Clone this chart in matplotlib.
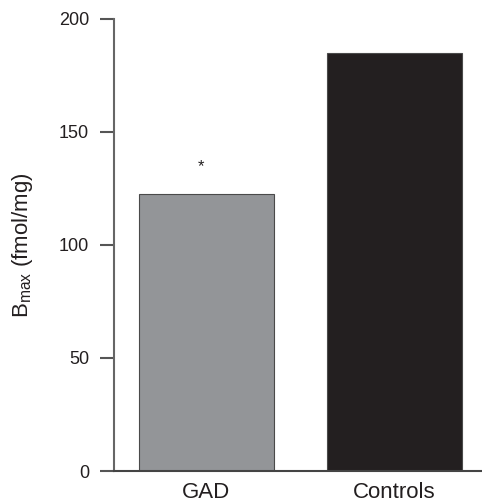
import matplotlib
matplotlib.use("Agg")
import matplotlib.pyplot as plt

plt.rcParams['font.family'] = ['Liberation Sans', 'DejaVu Sans']
plt.rcParams['mathtext.default'] = 'regular'

categories = ["GAD", "Controls"]
values = [122.5, 185]
colors = ["#939598", "#231f20"]
yticks = [0, 50, 100, 150, 200]

fig = plt.figure(figsize=(4.82, 5.0), dpi=100)
ax = fig.add_axes([114/482, 29/500, 1 - 114/482, (471-19)/500])

x = [0, 1]
ax.bar(x, values, width=0.72, color=colors, edgecolor="#4a4a4a", linewidth=0.8)
ax.text(0 - 0.03, values[0] + 12, "*", ha="center", va="center", fontsize=12, color="#231f20")

ax.set_xlim(-0.493, 1.469)
ax.set_ylim(0, 200)
ax.set_yticks(yticks)
ax.set_xticks(x)
ax.set_xticklabels(categories, fontsize=16)
ax.tick_params(axis='x', length=0, pad=8, colors="#231f20")
ax.tick_params(axis='y', length=10, width=1.5, color="#555555", labelsize=13, pad=8, labelcolor="#231f20")
for s in ["top", "right"]:
    ax.spines[s].set_visible(False)
ax.spines["left"].set_color("#666666")
ax.spines["left"].set_linewidth(1.5)
ax.spines["bottom"].set_color("#444444")
ax.spines["bottom"].set_linewidth(1.5)
ax.set_ylabel(r"B$_{max}$ (fmol/mg)", fontsize=16, color="#231f20", labelpad=17)

fig.savefig("out.png", dpi=100)
